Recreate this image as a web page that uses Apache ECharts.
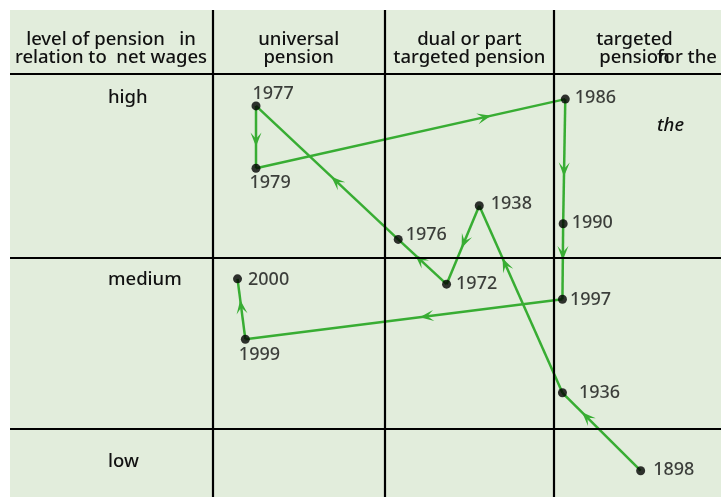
<!DOCTYPE html>
<html>
<head>
<meta charset="utf-8">
<script src="https://cdn.jsdelivr.net/npm/echarts@6/dist/echarts.min.js"></script>
<style>
  html, body { margin: 0; padding: 0; background: #ffffff; }
  #chart { width: 727px; height: 497px; }
</style>
</head>
<body>
<div id="chart"></div>
<script>
// ---- data ----
const years  = ['1898','1936','1938','1972','1976','1977','1979','1986','1990','1997','1999','2000'];
// position on the pension-type scale (0..100, left to right)
const xScore = [88.7, 77.7, 66.0, 61.4, 54.6, 34.6, 34.6, 78.1, 77.8, 77.7, 33.1, 32.0];
// position on the pension-level scale (0..100, bottom to top)
const yScore = [5.4, 21.4, 59.8, 43.7, 52.9, 80.3, 67.5, 81.7, 56.1, 40.6, 32.4, 44.8];
const colBounds = [28.5, 52.7, 76.5];
const rowBounds = [87.0, 49.1, 14.1];
const colLabels = ['universal\npension', 'dual or part\ntargeted pension', 'targeted\npension'];
const rowLabels = ['high', 'medium', 'low'];
const cornerLabel = 'level of pension   in\nrelation to  net wages';

// ---- style ----
const FONT = '"Noto Sans", "Open Sans", sans-serif';
const WEIGHT = 500;
const GREEN = '#38ad33';
const TEXT = '#111111';
// label placement per year: [gap right of dot centre, vertical shift]
const labelPlace = {
  '1898': [13, 0], '1936': [17, 1], '1938': [12, -1], '1972': [10, 0],
  '1976': [8, -4], '1977': [-3, -12], '1979': [-6, 15], '1986': [10, -1],
  '1990': [9, 0], '1997': [8, 1], '1999': [-6, 16], '2000': [11, 2]
};
// where the arrow tip sits along each segment (fraction of length)
const arrowAt = [0.75, 0.72, 0.54, 0.65, 0.47, 0.65, 0.76, 0.62, 0.48, 0.45, 0.65];

const chart = echarts.init(document.getElementById('chart'), null, { renderer: 'canvas' });

const pointData = years.map((y, i) => {
  const p = labelPlace[y];
  return {
    name: y,
    value: [xScore[i], yScore[i]],
    label: { position: [4 + p[0], 4 + p[1]] }
  };
});

const segData = [];
for (let i = 0; i < years.length - 1; i++) {
  segData.push([xScore[i], yScore[i], xScore[i + 1], yScore[i + 1], arrowAt[i]]);
}

function renderSeg(params, api) {
  const a = api.coord([api.value(0), api.value(1)]);
  const b = api.coord([api.value(2), api.value(3)]);
  const f = api.value(4);
  const dx = b[0] - a[0], dy = b[1] - a[1];
  const len = Math.sqrt(dx * dx + dy * dy);
  const ux = dx / len, uy = dy / len;
  const nx = -uy, ny = ux;
  const tip = [a[0] + dx * f, a[1] + dy * f];
  const L = 14, W = 11, N = 0.55;
  const back = [tip[0] - ux * L, tip[1] - uy * L];
  const notch = [tip[0] - ux * L * N, tip[1] - uy * L * N];
  return {
    type: 'group',
    children: [
      {
        type: 'line',
        shape: { x1: a[0], y1: a[1], x2: b[0], y2: b[1] },
        style: { stroke: GREEN, lineWidth: 2.5 }
      },
      {
        type: 'polygon',
        shape: {
          points: [
            tip,
            [back[0] + nx * W / 2, back[1] + ny * W / 2],
            notch,
            [back[0] - nx * W / 2, back[1] - ny * W / 2]
          ]
        },
        style: { fill: GREEN }
      }
    ]
  };
}

const option = {
  animation: false,
  grid: {
    left: 10, right: 6, top: 10, bottom: 0,
    show: true, backgroundColor: '#e2eddc', borderWidth: 0
  },
  xAxis: { type: 'value', min: 0, max: 100, show: false },
  yAxis: { type: 'value', min: 0, max: 100, show: false },
  series: [
    {
      type: 'line',
      data: [],
      z: 1,
      silent: true,
      markLine: {
        silent: true,
        symbol: ['none', 'none'],
        label: { show: false },
        lineStyle: { color: '#000000', width: 2.2, type: 'solid' },
        emphasis: { disabled: true },
        data: colBounds.map(v => ({ xAxis: v })).concat(rowBounds.map(v => ({ yAxis: v })))
      }
    },
    {
      type: 'custom',
      z: 2,
      silent: true,
      renderItem: renderSeg,
      encode: { x: [0, 2], y: [1, 3] },
      data: segData
    },
    {
      type: 'scatter',
      z: 3,
      silent: true,
      symbol: 'circle',
      symbolSize: 9,
      itemStyle: { color: '#000000' },
      label: {
        show: true,
        formatter: p => p.name,
        align: 'left',
        verticalAlign: 'middle',
        fontFamily: FONT,
        fontWeight: WEIGHT,
        fontSize: 18,
        color: TEXT
      },
      data: pointData
    }
  ]
};

chart.setOption(option);

// header and row texts
const colCenters = colBounds.map((v, i) => {
  const right = i < colBounds.length - 1 ? colBounds[i + 1] : 100;
  return chart.convertToPixel({ gridIndex: 0 }, [(v + right) / 2, 0])[0];
});
const rowY = [98, 280, 462];
const F = WEIGHT + ' 18.5px ' + FONT;
const graphics = [
  {
    type: 'text', x: 111, y: 49,
    style: { text: cornerLabel, font: F, fill: TEXT, align: 'center', verticalAlign: 'middle', lineHeight: 18 }
  }
];
colLabels.forEach((t, i) => {
  graphics.push({
    type: 'text', x: colCenters[i] - (i === 2 ? 3 : 0), y: 49,
    style: { text: t, font: F, fill: TEXT, align: 'center', verticalAlign: 'middle', lineHeight: 18 }
  });
});
rowLabels.forEach((t, i) => {
  graphics.push({
    type: 'text', x: 108, y: rowY[i],
    style: { text: t, font: F, fill: TEXT, align: 'left', verticalAlign: 'middle' }
  });
});
graphics.push({
  type: 'text', x: 657, y: 58,
  style: { text: 'for the', font: F, fill: TEXT, align: 'left', verticalAlign: 'middle' }
});
graphics.push({
  type: 'text', x: 657, y: 126,
  style: { text: 'the', font: 'italic ' + F, fill: TEXT, align: 'left', verticalAlign: 'middle' }
});
chart.setOption({ graphic: graphics });
</script>
</body>
</html>
